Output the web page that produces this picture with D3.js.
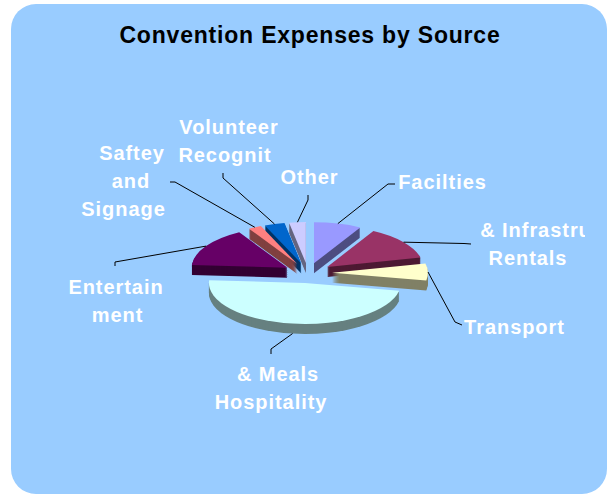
<!DOCTYPE html>
<html>
<head>
<meta charset="utf-8">
<script src="https://d3js.org/d3.v7.min.js"></script>
<style>
  body { margin: 0; background: #fff; }
  svg { display: block; }
  text { font-family: "Liberation Sans", Arial, sans-serif; font-weight: bold; }
</style>
</head>
<body>
<div id="chart"></div>
<script>
// Data, in pie order (clockwise from 12 o'clock)
var categories = ["Facilties", "Rentals", "Transport", "Hospitality", "Entertainment", "Safety", "Volunteer", "Other"];
var shares = [8, 13.3, 6.7, 48, 15.5, 2.2, 3.4, 2.8];
var topColors = ["#9999FF", "#993366", "#FFFFCC", "#CCFFFF", "#660066", "#FF8080", "#0066CC", "#CCCCFF"];
var wallColors = ["#4D4D80", "#4D1A33", "#808066", "#668080", "#330033", "#804040", "#003366", "#666680"];
var labelLines = [
    ["Facilties"],
    ["& Infrastru", "Rentals"],
    ["Transport"],
    ["& Meals", "Hospitality"],
    ["Entertain", "ment"],
    ["Saftey", "and", "Signage"],
    ["Volunteer", "Recognit"],
    ["Other"]
];

// Label placement: centre x of each line, first baseline, and the elbow points of each leader line
var labelX = [[442.5], [536, 528], [514.5], [278, 271], [116, 117.5], [132, 131, 123.5], [229, 225], [309.5]];
var labelY = [189, 237, 334, 381, 294, 160, 134, 184];
var leaderPoints = [
    [[388, 184], [395, 184]],
    [[464, 243.5], [471, 244]],
    [[455, 322], [462, 325]],
    [[271, 349], [271, 354]],
    [[115, 262], [115, 266]],
    [[175, 182], [170, 182]],
    [[223, 178], [223, 173]],
    [[308, 200], [308, 195]]
];

var width = 607, height = 494;
var cx = 308, cy = 273;        // pie centre
var rx = 96, ry = 41;          // top ellipse
var explodeX = 24, explodeY = 10;
var depth = 10;

var svg = d3.select("#chart")
    .append("svg")
    .attr("width", width)
    .attr("height", height);

// background panel
svg.append("rect")
    .attr("x", 11)
    .attr("y", 4)
    .attr("width", 596)
    .attr("height", 490)
    .attr("rx", 25)
    .attr("fill", "#99CCFF");

// labels get cut off by the plot box on both of these
var defs = svg.append("defs");
defs.append("clipPath").attr("id", "clip-right")
    .append("rect").attr("x", 0).attr("y", 0).attr("width", 585).attr("height", height);
defs.append("clipPath").attr("id", "clip-vol")
    .append("rect").attr("x", 0).attr("y", 0).attr("width", 278).attr("height", height);

svg.append("text")
    .attr("x", 310)
    .attr("y", 43)
    .attr("text-anchor", "middle")
    .attr("font-size", 23)
    .attr("letter-spacing", 0.8)
    .attr("fill", "#000")
    .text("Convention Expenses by Source");

var pie = d3.pie().sort(null).value(function (d) { return d; });
var arcs = pie(shares);

// Arc drawn on a circle of radius rx, then squashed to the ellipse
var arc = d3.arc().innerRadius(0).outerRadius(rx);
var squash = ry / rx;

arcs.forEach(function (d, i) {
    d.mid = (d.startAngle + d.endAngle) / 2;
    d.apexX = cx + explodeX * Math.sin(d.mid);
    d.apexY = cy - explodeY * Math.cos(d.mid);
    d.index2 = i;
});

// Back slices first, so the front ones sit on top
var order = arcs.slice().sort(function (a, b) { return a.apexY - b.apexY; });

var slices = svg.selectAll(".slice")
    .data(order)
    .enter()
    .append("g")
    .attr("class", "slice");

// Side walls: stack of copies going down
slices.each(function (d) {
    var g = d3.select(this);
    d3.range(depth, 0, -1).forEach(function (k) {
        g.append("path")
            .attr("d", arc(d))
            .attr("transform", "translate(" + d.apexX + "," + (d.apexY + k) + ") scale(1," + squash + ")")
            .attr("fill", wallColors[d.index2]);
    });
});

slices.append("path")
    .attr("d", function (d) { return arc(d); })
    .attr("transform", function (d) {
        return "translate(" + d.apexX + "," + d.apexY + ") scale(1," + squash + ")";
    })
    .attr("fill", function (d) { return topColors[d.index2]; });

// Leader lines start on the rim at the middle of the slice
var leader = d3.line();
svg.selectAll(".leader")
    .data(arcs)
    .enter()
    .append("path")
    .attr("class", "leader")
    .attr("fill", "none")
    .attr("stroke", "#000")
    .attr("stroke-width", 1)
    .attr("d", function (d, i) {
        var cosMid = Math.cos(d.mid);
        var start = [d.apexX + rx * Math.sin(d.mid), d.apexY - ry * cosMid + (cosMid < 0 ? depth : 0)];
        return leader([start].concat(leaderPoints[i]));
    });

// Labels
var labels = svg.selectAll(".label")
    .data(labelLines)
    .enter()
    .append("text")
    .attr("class", "label")
    .attr("text-anchor", "middle")
    .attr("font-size", 20)
    .attr("letter-spacing", 0.95)
    .attr("fill", "#fff")
    .attr("clip-path", function (d, i) {
        if (i === 1) return "url(#clip-right)";
        if (i === 6) return "url(#clip-vol)";
        return null;
    });

labels.each(function (lines, i) {
    d3.select(this).selectAll("tspan")
        .data(lines)
        .enter()
        .append("tspan")
        .attr("x", function (d, j) { return labelX[i][j]; })
        .attr("y", function (d, j) { return labelY[i] + j * 28; })
        .text(function (d) { return d; });
});
</script>
</body>
</html>
